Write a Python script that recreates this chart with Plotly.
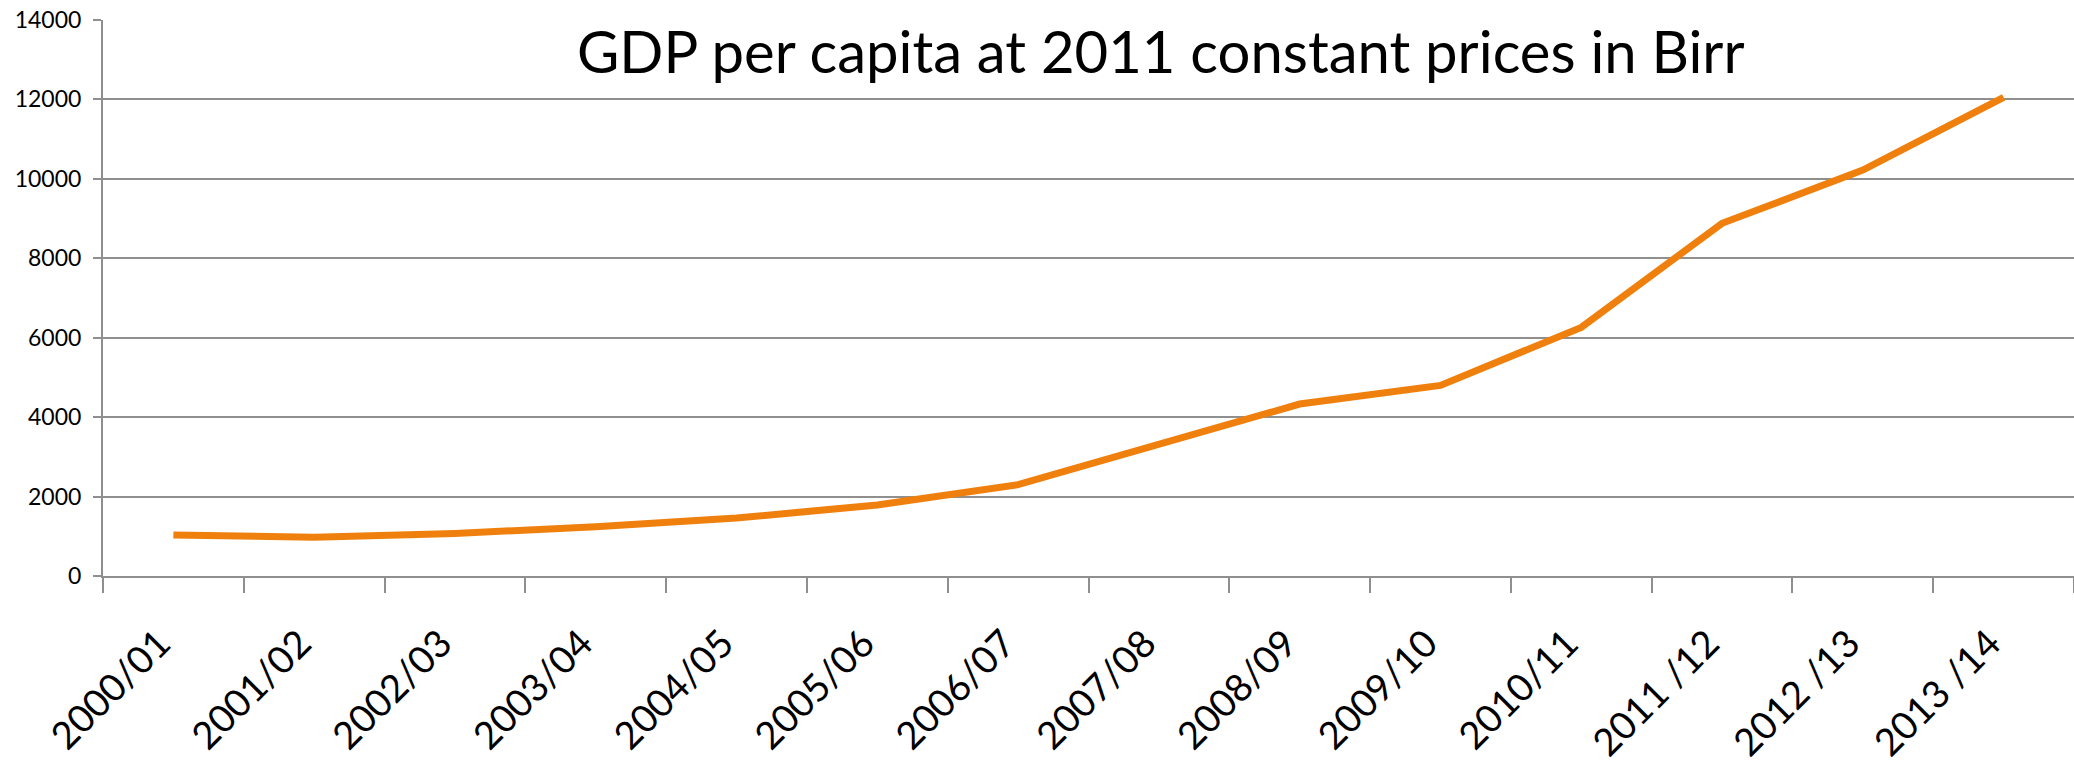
import plotly.graph_objects as go

categories = ["2000/01", "2001/02", "2002/03", "2003/04", "2004/05", "2005/06",
              "2006/07", "2007/08", "2008/09", "2009/10", "2010/11",
              "2011 /12", "2012 /13", "2013 /14"]
gdp_per_capita = [1035, 975, 1070, 1240, 1460, 1790, 2300, 3300, 4330, 4800,
                  6260, 8880, 10220, 12050]
y_ticks = [0, 2000, 4000, 6000, 8000, 10000, 12000, 14000]
title_text = "GDP per capita at 2011 constant prices in Birr"

FONT = "Lato"
GRID = "#8f8f8f"

fig = go.Figure()
fig.add_trace(go.Scatter(
    x=categories, y=gdp_per_capita, mode="lines",
    line=dict(color="#F0800E", width=7),
    hoverinfo="x+y", showlegend=False,
))

fig.update_layout(
    width=2074, height=773,
    margin=dict(l=103, r=0, t=19.5, b=196.5, autoexpand=False),
    paper_bgcolor="white", plot_bgcolor="white",
    font=dict(family=FONT, color="black"),
    xaxis=dict(
        type="category", range=[-0.5, 13.5], automargin=False,
        tickson="boundaries", ticks="outside", ticklen=15, tickwidth=2,
        tickcolor=GRID, showline=True, linecolor=GRID, linewidth=2,
        showgrid=False, tickangle=-45, tickfont=dict(size=38, family=FONT),
        zeroline=False, ticklabelstandoff=28, ticklabelshift=-14,
    ),
    yaxis=dict(
        range=[0, 14000], tickvals=y_ticks, ticktext=[str(v) for v in y_ticks],
        automargin=False,
        ticks="outside", ticklen=8, tickwidth=2, tickcolor=GRID,
        showline=True, linecolor=GRID, linewidth=2,
        showgrid=True, gridcolor=GRID, gridwidth=2,
        tickfont=dict(size=23, family=FONT), zeroline=False, ticklabelstandoff=7,
    ),
    annotations=[dict(
        text=title_text, xref="paper", yref="paper",
        x=0.537, y=0.945, xanchor="center", yanchor="middle",
        showarrow=False, font=dict(size=58, family=FONT, color="black"),
    )],
)

fig.write_html("out.html")
